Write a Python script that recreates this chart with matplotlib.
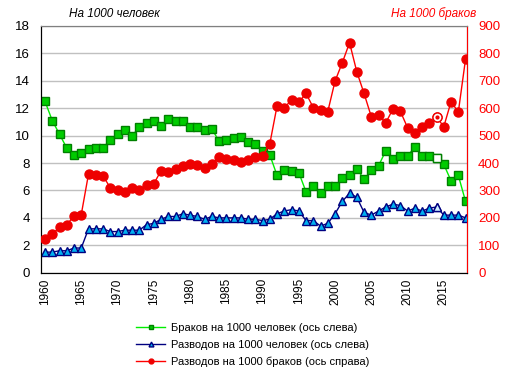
import numpy as np
import matplotlib
matplotlib.use("Agg")
import matplotlib.pyplot as plt

plt.rcParams['font.family'] = ['Liberation Sans', 'DejaVu Sans']

years = list(range(1960, 2019))

marriages = [12.5, 11.1, 10.1, 9.1, 8.6, 8.7, 9.0, 9.1, 9.1, 9.7,
             10.1, 10.4, 10.0, 10.6, 10.9, 11.1, 10.7, 11.2, 11.1, 11.1,
             10.6, 10.6, 10.4, 10.5, 9.6, 9.7, 9.8, 9.9, 9.5, 9.4,
             8.9, 8.6, 7.1, 7.5, 7.4, 7.3, 5.9, 6.3, 5.8, 6.3,
             6.3, 6.9, 7.1, 7.6, 6.8, 7.5, 7.8, 8.9, 8.3, 8.5,
             8.5, 9.2, 8.5, 8.5, 8.4, 7.9, 6.7, 7.1, 5.2]

divorces = [1.5, 1.5, 1.6, 1.6, 1.8, 1.8, 3.2, 3.2, 3.2, 3.0,
            3.0, 3.1, 3.1, 3.1, 3.5, 3.6, 3.9, 4.1, 4.1, 4.3,
            4.2, 4.1, 3.9, 4.1, 4.0, 4.0, 4.0, 4.0, 3.9, 3.9,
            3.8, 3.9, 4.3, 4.5, 4.6, 4.5, 3.8, 3.8, 3.4, 3.6,
            4.3, 5.2, 5.8, 5.5, 4.4, 4.2, 4.5, 4.8, 5.0, 4.9,
            4.5, 4.7, 4.5, 4.7, 4.8, 4.2, 4.2, 4.2, 4.0]

div_per_marr = [124, 140, 166, 175, 207, 212, 360, 356, 353, 310,
                302, 294, 310, 302, 321, 324, 372, 368, 379, 389,
                398, 393, 382, 398, 422, 416, 411, 404, 412, 423,
                426, 470, 608, 602, 630, 622, 654, 602, 594, 588,
                699, 766, 839, 733, 654, 569, 574, 547, 598, 589,
                529, 511, 533, 545, 567, 533, 624, 586, 780]

hollow_year = 2014

legend_labels = ["Браков на 1000 человек (ось слева)",
                 "Разводов на 1000 человек (ось слева)",
                 "Разводов на 1000 браков (ось справа)"]

fig = plt.figure(figsize=(5.14, 3.74), dpi=100)
ax = fig.add_axes([0.0798, 0.2709, 0.8288, 0.6596])
ax2 = ax.twinx()

k = years.index(hollow_year)

l1, = ax.plot(years, marriages, color='#00ee00', lw=1, marker='s', ms=6,
              mfc='#00cc00', mec='#008000', mew=1, zorder=3)
ax.plot(years[k], marriages[k], marker='s', ms=6, mfc='white', mec='#008000',
        mew=1, ls='none', zorder=4)
l2, = ax.plot(years, divorces, color='#000080', lw=1, marker='^', ms=5.5,
              mfc='#00b0f0', mec='#000080', mew=1, zorder=3)
ax.plot(years[k], divorces[k], marker='^', ms=5.5, mfc='#cfefff', mec='#000080',
        mew=1, ls='none', zorder=4)
l3, = ax2.plot(years, div_per_marr, color='#ff0000', lw=1, marker='o', ms=6.5,
               mfc='#ee0000', mec='#ee0000', zorder=3)
ax2.plot(years[k], div_per_marr[k], marker='o', ms=6.5, mfc='white', mec='#ee0000',
         mew=1, ls='none', zorder=4)
ax2.plot(years[k], div_per_marr[k], marker='o', ms=2, mfc='#ee0000', mec='#ee0000',
         ls='none', zorder=5)

ax.set_xlim(1959.45, 2018.2)
ax.set_ylim(0, 18)
ax.set_yticks(np.arange(0, 19, 2))
ax2.set_ylim(0, 900)
ax2.set_yticks(np.arange(0, 901, 100))
ax.set_xticks(np.arange(1960, 2016, 5))
ax.tick_params(axis='x', labelrotation=90, labelsize=8.5, length=0, pad=4)
ax.tick_params(axis='y', labelsize=9.5, length=0, pad=8)
ax2.tick_params(axis='y', labelsize=9.5, length=0, pad=8, labelcolor='#ff0000')
ax.grid(axis='y', color='#c0c0c0', lw=1)
ax.set_axisbelow(True)

for s in ['left', 'bottom']:
    ax.spines[s].set_color('black')
ax.spines['top'].set_color('#808080')
ax2.spines['top'].set_color('#808080')
ax2.spines['right'].set_color('#ff0000')
ax2.spines['left'].set_color('black')
ax2.spines['bottom'].set_color('black')

fig.text(0.135, 0.963, "На 1000 человек", fontsize=8.5, style='italic', va='center')
fig.text(0.76, 0.963, "На 1000 браков", fontsize=8.5, style='italic',
         color='#ff0000', va='center')

h1 = plt.Line2D([], [], color='#00ee00', lw=1, marker='s', ms=3.5,
                mfc='#00cc00', mec='#008000')
h2 = plt.Line2D([], [], color='#000080', lw=1, marker='^', ms=3.5,
                mfc='#00b0f0', mec='#000080')
h3 = plt.Line2D([], [], color='#ff0000', lw=1, marker='o', ms=3.5,
                mfc='#ee0000', mec='#ee0000')
fig.legend([h1, h2, h3], legend_labels, loc='upper left',
           bbox_to_anchor=(0.265, 0.137), frameon=False, fontsize=8,
           handlelength=2.6, handletextpad=0.5, labelspacing=0.62,
           borderpad=0, borderaxespad=0)

fig.savefig("out.png", dpi=100)
